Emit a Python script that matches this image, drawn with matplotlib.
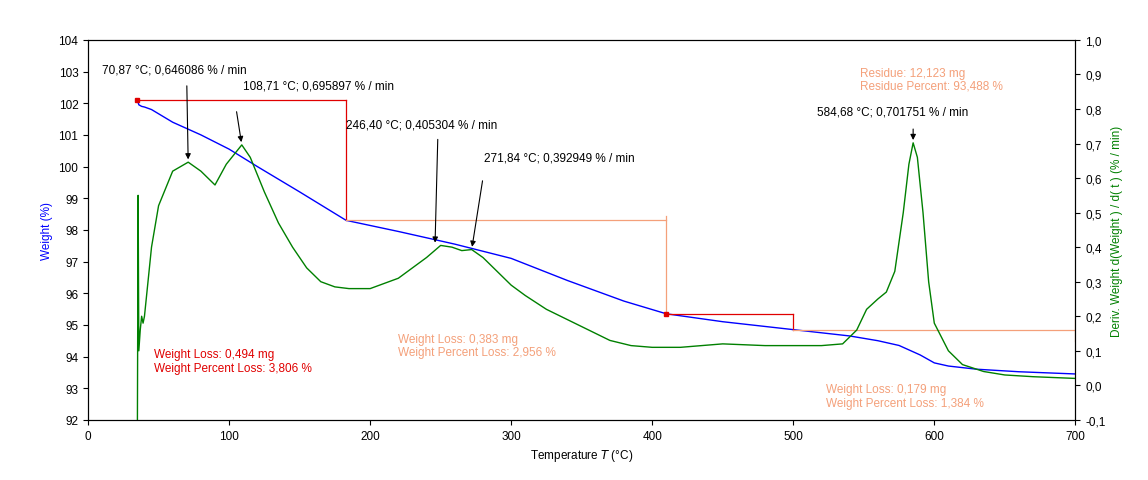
# TGA / DTG Kurve nachzeichnen
import numpy as np
import matplotlib.pyplot as plt

plt.rcParams['font.family'] = ['Liberation Sans', 'DejaVu Sans']
plt.rcParams['font.size'] = 8.5

# Gewichtskurve (Werte aus dem Bild)
t_w = [35, 36, 38, 40, 45, 60, 80, 100, 120, 150, 183, 220, 260, 300, 340, 380, 410, 450, 500, 540, 560, 575, 590, 600, 610, 630, 660, 700]
w = [102.1, 101.95, 101.9, 101.88, 101.8, 101.4, 101.0, 100.55, 100.0, 99.2, 98.3, 97.95, 97.55, 97.1, 96.4, 95.75, 95.35, 95.1, 94.85, 94.65, 94.5, 94.35, 94.05, 93.8, 93.7, 93.6, 93.52, 93.45]

# DTG Kurve
t_d = [35, 35.5, 36, 37, 38, 39, 40, 42, 45, 50, 60, 71, 80, 85, 90, 98, 109, 115, 125, 135, 145, 155, 165, 175, 185, 200, 220, 240, 250, 258, 265, 272, 280, 290, 300, 310, 325, 340, 355, 370, 385, 400, 420, 450, 480, 500, 520, 535, 545, 552, 560, 566, 572, 578, 582, 585, 588, 592, 596, 600, 610, 620, 635, 650, 670, 700]
d = [-0.1, 0.55, 0.1, 0.16, 0.2, 0.18, 0.2, 0.28, 0.4, 0.52, 0.62, 0.646, 0.62, 0.6, 0.58, 0.64, 0.696, 0.66, 0.56, 0.47, 0.4, 0.34, 0.3, 0.285, 0.28, 0.28, 0.31, 0.37, 0.405, 0.4, 0.39, 0.393, 0.37, 0.33, 0.29, 0.26, 0.22, 0.19, 0.16, 0.13, 0.115, 0.11, 0.11, 0.12, 0.115, 0.115, 0.115, 0.12, 0.16, 0.22, 0.25, 0.27, 0.33, 0.5, 0.64, 0.702, 0.66, 0.5, 0.3, 0.18, 0.1, 0.06, 0.04, 0.03, 0.025, 0.02]

fig = plt.figure(figsize=(11.48, 4.81), dpi=100)
ax = fig.add_axes([0.0767, 0.125, 0.860, 0.79])
ax2 = ax.twinx()

ax.plot(t_w, w, color='blue', lw=1)
ax2.plot(t_d, d, color='green', lw=1)

# Stufen
red = '#e00000'
sal = '#f4a07a'
ax.plot([35, 183], [102.1, 102.1], color=red, lw=0.9)
ax.plot([183, 183], [102.1, 98.3], color=red, lw=0.9)
ax.plot([183, 410], [98.3, 98.3], color=sal, lw=0.9)
ax.plot([410, 410], [98.45, 95.35], color=sal, lw=0.9)
ax.plot([410, 500], [95.35, 95.35], color=red, lw=0.9)
ax.plot([500, 500], [95.35, 94.85], color=red, lw=0.9)
ax.plot([500, 700], [94.85, 94.85], color=sal, lw=0.9)
ax.plot([700, 700], [94.5, 95.2], color=sal, lw=0.9)
ax.plot([35], [102.1], 's', color=red, ms=2.5)
ax.plot([410], [95.35], 's', color=red, ms=2.5)

ax.set_xlim(0, 700)
ax.set_ylim(92, 104)
ax.set_yticks(np.arange(92, 105, 1))
ax2.set_ylim(-0.1, 1.0)
ax2.set_yticks(np.arange(-0.1, 1.01, 0.1))
ax2.set_yticklabels([f'{v:.1f}'.replace('.', ',') for v in np.arange(-0.1, 1.01, 0.1)])
ax.set_xlabel('Temperature $T$ (°C)')
ax.set_ylabel('Weight (%)', color='blue')
ax2.set_ylabel('Deriv. Weight d(Weight ) / d( t ) (% / min)', color='green')

# Peaks beschriften
ap = dict(arrowstyle='-|>', color='black', lw=0.8, mutation_scale=8)
ax2.text(10, 0.905, '70,87 °C; 0,646086 % / min')
ax2.text(110, 0.86, '108,71 °C; 0,695897 % / min')
ax2.text(183, 0.745, '246,40 °C; 0,405304 % / min')
ax2.text(281, 0.65, '271,84 °C; 0,392949 % / min')
ax2.text(517, 0.785, '584,68 °C; 0,701751 % / min')
ax2.annotate('', xy=(71, 0.646), xytext=(70, 0.875), arrowprops=ap)
ax2.annotate('', xy=(109, 0.696), xytext=(105, 0.80), arrowprops=ap)
ax2.annotate('', xy=(246, 0.405), xytext=(248, 0.72), arrowprops=ap)
ax2.annotate('', xy=(272, 0.393), xytext=(280, 0.60), arrowprops=ap)
ax2.annotate('', xy=(585, 0.702), xytext=(585, 0.75), arrowprops=ap)

ax.text(47, 93.55, 'Weight Loss: 0,494 mg\nWeight Percent Loss: 3,806 %', color=red, linespacing=1.15)
ax.text(220, 94.05, 'Weight Loss: 0,383 mg\nWeight Percent Loss: 2,956 %', color=sal, linespacing=1.15)
ax.text(523, 92.45, 'Weight Loss: 0,179 mg\nWeight Percent Loss: 1,384 %', color=sal, linespacing=1.15)
ax.text(547, 102.45, 'Residue: 12,123 mg\nResidue Percent: 93,488 %', color=sal, linespacing=1.15)

plt.savefig('out.png')
